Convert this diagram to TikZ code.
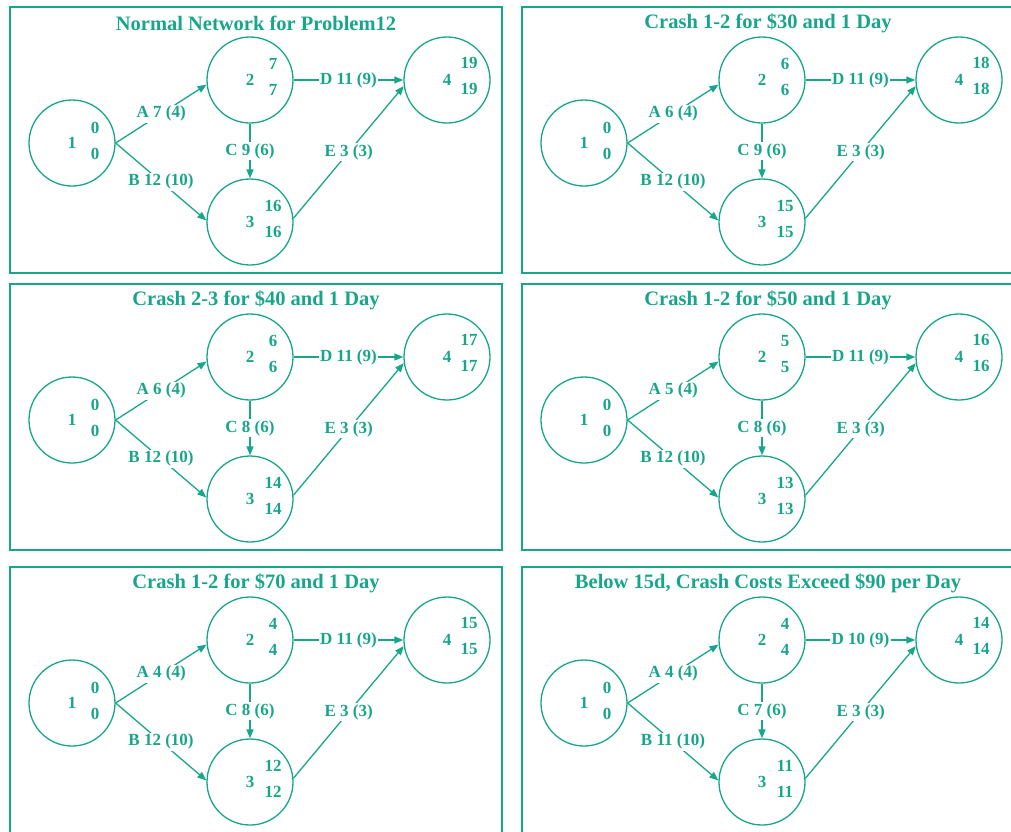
\documentclass[tikz,border=0pt]{standalone}
\usepackage{fontspec}
\setmainfont{Liberation Serif}
\usetikzlibrary{positioning,arrows.meta,calc}
\definecolor{netgreen}{RGB}{24,166,138}

\begin{document}
\begin{tikzpicture}[
    x=1pt, y=-1pt,
    >={Triangle[length=9pt,width=7pt]},
    every node/.style={font=\fontsize{17}{17}\selectfont\bfseries, text=netgreen},
    event/.style={draw=netgreen, line width=1.3pt, circle, minimum size=86pt, inner sep=0pt},
    act/.style={->, draw=netgreen, line width=1.3pt},
    actlab/.style={fill=white, inner sep=1.5pt},
    panel/.style={draw=netgreen, line width=2.4pt},
    ptitle/.style={font=\fontsize{20.5}{20.5}\selectfont\bfseries},
]

\useasboundingbox (0,0) rectangle (1011,831);

% One panel per crash step: offset x/y, title, A B C D times, event times 2 3 4
\foreach \px/\py/\ttl/\la/\lb/\lc/\ld/\vb/\vc/\vd [count=\i] in {
    0/0/{Normal Network for Problem12}/7/12/9/11/7/16/19,
    512/0/{Crash 1-2 for \$30 and 1 Day}/6/12/9/11/6/15/18,
    0/277/{Crash 2-3 for \$40 and 1 Day}/6/12/8/11/6/14/17,
    512/277/{Crash 1-2 for \$50 and 1 Day}/5/12/8/11/5/13/16,
    0/560/{Crash 1-2 for \$70 and 1 Day}/4/12/8/11/4/12/15,
    512/560/{Below 15d, Crash Costs Exceed \$90 per Day}/4/11/7/10/4/11/14%
}{
    % Frame and title
    \draw[panel] (\px+10,\py+7) rectangle ++(492,266);
    \node[ptitle] (title\i) at (\px+256,\py+23) {\ttl};

    % Events
    \node[event] (ev1-\i) at (\px+72,\py+143) {1};
    \node[event] (ev2-\i) at (\px+250,\py+80) {2};
    \node[event] (ev3-\i) at (\px+250,\py+222) {3};
    \node[event] (ev4-\i) at (\px+447,\py+80) {4};

    % Event times (early / late)
    \node (es1-\i) at ($(ev1-\i)+(23,-15)$) {0};
    \node (lf1-\i) at ($(ev1-\i)+(23,11)$) {0};
    \node (es2-\i) at ($(ev2-\i)+(23,-16)$) {\vb};
    \node (lf2-\i) at ($(ev2-\i)+(23,10)$) {\vb};
    \node (es3-\i) at ($(ev3-\i)+(23,-16)$) {\vc};
    \node (lf3-\i) at ($(ev3-\i)+(23,10)$) {\vc};
    \node (es4-\i) at ($(ev4-\i)+(22,-17)$) {\vd};
    \node (lf4-\i) at ($(ev4-\i)+(22,9)$) {\vd};

    % Activities
    \draw[act] (ev1-\i.east) -- node[actlab] {A \la\ (4)} (ev2-\i.186);
    \draw[act] (ev1-\i.east) -- node[actlab] {B \lb\ (10)} (ev3-\i.178);
    \draw[act] (ev2-\i.south) -- node[actlab] {C \lc\ (6)} (ev3-\i.north);
    \draw[act] (ev2-\i.east) -- node[actlab] {D \ld\ (9)} (ev4-\i.west);
    \draw[act] (ev3-\i.5) -- node[actlab] {E 3 (3)} (ev4-\i.188);
}

\end{tikzpicture}
\end{document}
